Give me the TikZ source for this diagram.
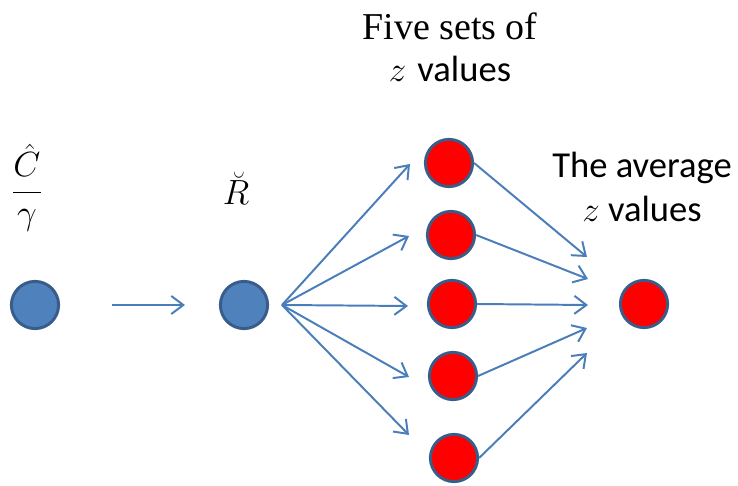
\documentclass[tikz,border=0pt]{standalone}
\usepackage{fontspec}
\newfontfamily\calibrifont{Carlito}
\newfontfamily\cambriafont{Liberation Serif}
\usetikzlibrary{arrows.meta}
\definecolor{ballblue}{RGB}{79,129,189}
\definecolor{rimblue}{RGB}{56,93,138}
\definecolor{arrowblue}{RGB}{74,126,187}

\begin{document}
\begin{tikzpicture}[
    blueball/.style={circle, draw=rimblue, line width=2.1pt, fill=ballblue, minimum size=1.18cm, inner sep=0pt},
    redball/.style={blueball, fill=red},
    link/.style={arrowblue, line width=1.4pt, -{Straight Barb[length=0.3cm,width=0.45cm]}},
    mathlabel/.style={font=\fontsize{24}{28}\selectfont, anchor=base},
    textlabel/.style={align=center, anchor=base}
]
    \useasboundingbox (0,0) rectangle (18.45,12.125);

    % Input and intermediate nodes
    \node[blueball] (C) at (0.875, 4.5) {};
    \node[blueball] (R) at (6.1, 4.5) {};
    \node[mathlabel] (Clabel) at (0.675, 7.11) {$\displaystyle\frac{\hat{C}}{\gamma}$};
    \node[mathlabel] (Rlabel) at (5.9, 7.0) {$\breve{R}$};

    \draw[link, shorten <=1.3cm, shorten >=0.85cm] (C) -- (R);

    % Five sets of z values
    \coordinate (fan) at (7.05, 4.5);
    \foreach \i/\xa/\ya/\xb/\yb in {1/10.25/8.025/11.225/8.05,
                                   2/10.225/6.225/11.275/6.25,
                                   3/10.2/4.475/11.3/4.525,
                                   4/10.225/2.7/11.325/2.725,
                                   5/10.225/1.25/11.35/0.675} {
        \coordinate (in\i) at (\xa, \ya);
        \node[redball] (z\i) at (\xb, \yb) {};
        \draw[link] (fan) -- (in\i);
    }
    \node[textlabel, font=\fontsize{27}{30}\selectfont] (setslabel) at (11.25, 10.075)
        {{\cambriafont Five sets of}\\ {\fontsize{26}{30}\selectfont$z$ \calibrifont values}};

    % The average
    \node[redball] (avg) at (16.1, 4.525) {};
    \node[textlabel, font=\calibrifont\fontsize{26}{32}\selectfont] (avglabel) at (16.05, 6.575)
        {The average\\ $z$ values};

    \foreach \i/\x/\y in {1/14.675/5.7, 2/14.7/5.15, 3/14.7/4.5, 4/14.675/3.925, 5/14.675/3.3} {
        \coordinate (out\i) at (\x, \y);
        \draw[link] (z\i.east) -- (out\i);
    }

\end{tikzpicture}
\end{document}
